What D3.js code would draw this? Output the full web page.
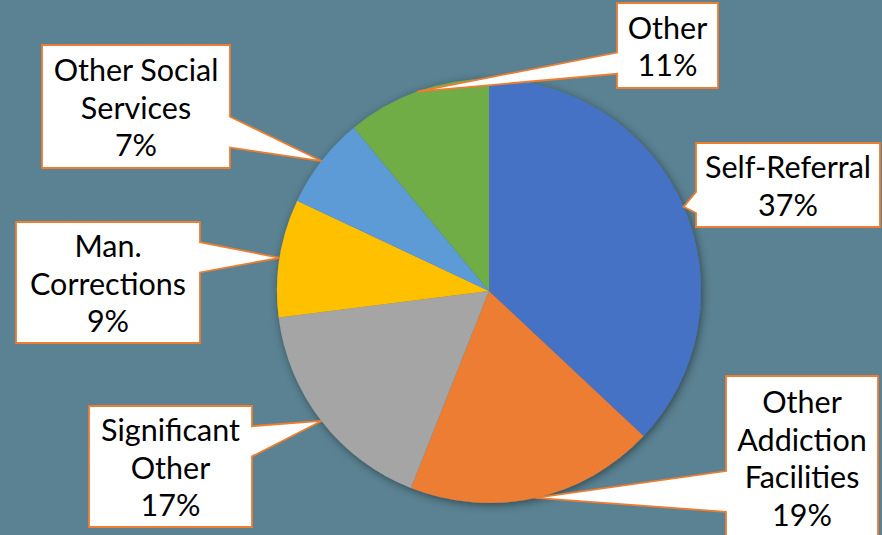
<!DOCTYPE html>
<html>
<head>
<meta charset="utf-8">
<script src="https://cdn.jsdelivr.net/npm/d3@7/dist/d3.min.js"></script>
<style>
  html, body { margin: 0; padding: 0; background: #5a8292; }
  svg { display: block; }
  text { font-family: Lato, "Open Sans", sans-serif; }
</style>
</head>
<body>
<svg id="chart" width="882" height="535"></svg>
<script>
// Referral sources (share of admissions, %)
const categories = ["Self-Referral", "Other Addiction Facilities", "Significant Other",
                    "Man. Corrections", "Other Social Services", "Other"];
const labelLines = [["Self-Referral"], ["Other", "Addiction", "Facilities"], ["Significant", "Other"],
                    ["Man.", "Corrections"], ["Other Social", "Services"], ["Other"]];
const shares = [37, 19, 17, 9, 7, 11];
const colors = ["#4472c4", "#ed7d31", "#a5a5a5", "#ffc000", "#5b9bd5", "#70ad47"];

// Callout box rectangles [x0, y0, x1, y1]
const boxes = [
  [696, 143, 880, 227],
  [726, 376, 878, 539],
  [89, 406, 252, 527],
  [16, 222, 200, 343],
  [42, 45, 230, 168],
  [617, 3, 718, 88]
];

const W = 882, H = 535;
const cx = 489, cy = 291, R = 212;
const svg = d3.select("#chart");

const defs = svg.append("defs");
const f = defs.append("filter").attr("id", "pieShadow")
  .attr("x", "-20%").attr("y", "-20%").attr("width", "140%").attr("height", "140%");
f.append("feDropShadow").attr("dx", 1.5).attr("dy", 2).attr("stdDeviation", 4)
  .attr("flood-color", "#000").attr("flood-opacity", 0.45);

const pie = d3.pie().sort(null).value(d => d);
const arcs = pie(shares);
const arc = d3.arc().innerRadius(0).outerRadius(R);
const edge = d3.arc().innerRadius(R).outerRadius(R);

const g = svg.append("g").attr("transform", `translate(${cx},${cy})`);
const slices = g.append("g").attr("filter", "url(#pieShadow)");
slices.selectAll("path").data(arcs).enter().append("path")
  .attr("d", arc)
  .attr("fill", (d, i) => colors[i]);

// Wedge-shaped rectangular callouts pointing at the middle of each slice's rim
function calloutPath(b, tip) {
  const [l, t, r, btm] = b;
  const w = r - l, h = btm - t;
  const hc = l + w / 2, vc = t + h / 2;
  const [tx, ty] = tip;
  const dx = tx - hc, dy = ty - vc;
  const p = d3.path();
  if (Math.abs(dy) > Math.abs(dx * h / w)) {
    const x1 = l + w * (dx > 0 ? 7 : 2) / 12, x2 = l + w * (dx > 0 ? 10 : 5) / 12;
    p.moveTo(l, t);
    if (dy < 0) { p.lineTo(x1, t); p.lineTo(tx, ty); p.lineTo(x2, t); }
    p.lineTo(r, t); p.lineTo(r, btm);
    if (dy > 0) { p.lineTo(x2, btm); p.lineTo(tx, ty); p.lineTo(x1, btm); }
    p.lineTo(l, btm); p.closePath();
  } else {
    const y1 = t + h * (dy > 0 ? 7 : 2) / 12, y2 = t + h * (dy > 0 ? 10 : 5) / 12;
    p.moveTo(l, t); p.lineTo(r, t);
    if (dx > 0) { p.lineTo(r, y1); p.lineTo(tx, ty); p.lineTo(r, y2); }
    p.lineTo(r, btm); p.lineTo(l, btm);
    if (dx < 0) { p.lineTo(l, y2); p.lineTo(tx, ty); p.lineTo(l, y1); }
    p.closePath();
  }
  return p.toString();
}

const lineH = 37.5;
const callouts = svg.append("g").selectAll("g").data(arcs).enter().append("g");
callouts.append("path")
  .attr("d", (d, i) => {
    const c = edge.centroid(d);
    return calloutPath(boxes[i], [cx + c[0], cy + c[1]]);
  })
  .attr("fill", "#ffffff")
  .attr("stroke", "#ed7d31")
  .attr("stroke-width", 1.8)
  .attr("stroke-linejoin", "miter");

callouts.each(function (d, i) {
  const b = boxes[i];
  const lines = labelLines[i].concat([d3.format(".0f")(shares[i]) + "%"]);
  const x = (b[0] + b[2]) / 2;
  const vc = (b[1] + b[3]) / 2;
  const firstBase = vc - (lines.length - 1) * lineH / 2 + 12;
  const t = d3.select(this).append("text")
    .attr("text-anchor", "middle")
    .attr("font-size", 30.5)
    .attr("fill", "#000");
  lines.forEach((s, k) => {
    t.append("tspan").attr("x", x).attr("y", firstBase + k * lineH).text(s);
  });
});
</script>
</body>
</html>
